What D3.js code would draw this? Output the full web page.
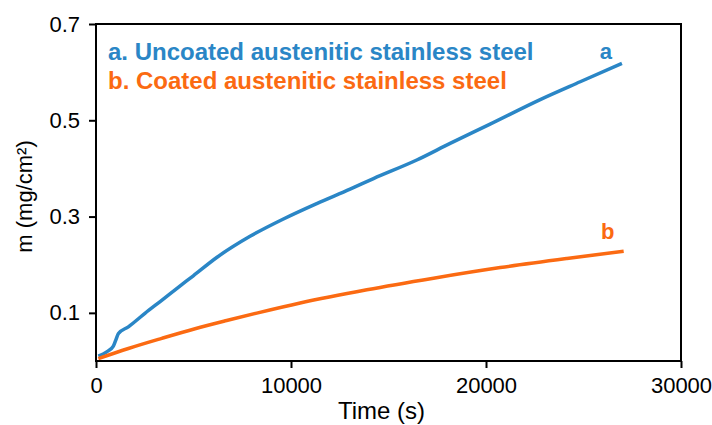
<!DOCTYPE html>
<html>
<head>
<meta charset="utf-8">
<script src="https://cdn.jsdelivr.net/npm/d3@7"></script>
<style>
  body { margin: 0; background: #fff; }
  svg text { font-family: Arial, "Liberation Sans", sans-serif; }
</style>
</head>
<body>
<div id="chart"></div>
<script>
// Uncoated steel (a): time in s, mass gain in mg/cm²
const timeA = [120, 550, 890, 1010, 1150, 1660, 2510, 3370, 4220, 4990, 6190, 7900, 9610, 11320, 13030, 14230, 16450, 18160, 20210, 22780, 24830, 26970];
const massA = [0.010, 0.019, 0.031, 0.043, 0.057, 0.071, 0.099, 0.126, 0.153, 0.177, 0.215, 0.259, 0.295, 0.327, 0.357, 0.379, 0.4175, 0.452, 0.492, 0.543, 0.580, 0.618];

// Coated steel (b)
const timeB = [120, 1660, 3370, 5080, 6700, 8300, 10470, 13890, 17310, 20730, 24150, 27060];
const massB = [0.005, 0.026, 0.047, 0.067, 0.084, 0.100, 0.1205, 0.148, 0.172, 0.194, 0.213, 0.228];

const xTicks = [0, 10000, 20000, 30000];
const yTicks = [0.1, 0.3, 0.5, 0.7];
const legendLabels = ["a. Uncoated austenitic stainless steel", "b. Coated austenitic stainless steel"];
const endLabels = ["a", "b"];
const endLabelValues = [0.627, 0.253];
const colors = ["#2a86c6", "#fb6a12"];

const W = 712, H = 425;
const margin = { top: 24, right: 31, bottom: 64, left: 96 };
const width = W - margin.left - margin.right,
      height = H - margin.top - margin.bottom;

const svg = d3.select("#chart").append("svg")
    .attr("width", W)
    .attr("height", H);

const g = svg.append("g")
    .attr("transform", `translate(${margin.left},${margin.top})`);

const x = d3.scaleLinear().domain([0, 30000]).range([0, width]);
const y = d3.scaleLinear().domain([0, 0.7]).range([height, 0]);

// frame
g.append("rect")
    .attr("width", width)
    .attr("height", height)
    .attr("fill", "none")
    .attr("stroke", "#000")
    .attr("stroke-width", 2);

const xAxis = g.append("g")
    .attr("transform", `translate(0,${height})`)
    .call(d3.axisBottom(x).tickValues(xTicks).tickSize(7).tickPadding(9).tickFormat(d3.format("d")));

const yAxis = g.append("g")
    .call(d3.axisLeft(y).tickValues(yTicks).tickSize(7).tickPadding(9).tickFormat(d3.format(".1f")));

[xAxis, yAxis].forEach(ax => {
    ax.select(".domain").remove();
    ax.selectAll(".tick line").attr("stroke", "#000").attr("stroke-width", 2);
    ax.selectAll(".tick text").attr("font-size", 22).attr("fill", "#000")
        .style("font-family", "Arial, 'Liberation Sans', sans-serif");
});

// curves
const series = [
    timeA.map((t, i) => ({ t: t, m: massA[i] })),
    timeB.map((t, i) => ({ t: t, m: massB[i] }))
];

const line = d3.line()
    .x(d => x(d.t))
    .y(d => y(d.m))
    .curve(d3.curveMonotoneX);

series.forEach((s, i) => {
    g.append("path")
        .datum(s)
        .attr("fill", "none")
        .attr("stroke", colors[i])
        .attr("stroke-width", 3.5)
        .attr("d", line);
});

// legend text
legendLabels.forEach((txt, i) => {
    g.append("text")
        .attr("x", 12)
        .attr("y", 36 + i * 29)
        .attr("font-size", 24)
        .attr("font-weight", "bold")
        .attr("fill", colors[i])
        .text(txt);
});

// end labels
series.forEach((s, i) => {
    const last = s[s.length - 1];
    g.append("text")
        .attr("x", x(last.t) - 16)
        .attr("y", y(endLabelValues[i]))
        .attr("text-anchor", "middle")
        .attr("font-size", 22)
        .attr("font-weight", "bold")
        .attr("fill", colors[i])
        .text(endLabels[i]);
});

// axis labels
svg.append("text")
    .attr("x", 381.5)
    .attr("y", 419)
    .attr("text-anchor", "middle")
    .attr("font-size", 24)
    .text("Time (s)");

svg.append("text")
    .attr("transform", `translate(32,${margin.top + height / 2 + 4}) rotate(-90)`)
    .attr("text-anchor", "middle")
    .attr("font-size", 22)
    .text("m (mg/cm²)");
</script>
</body>
</html>
